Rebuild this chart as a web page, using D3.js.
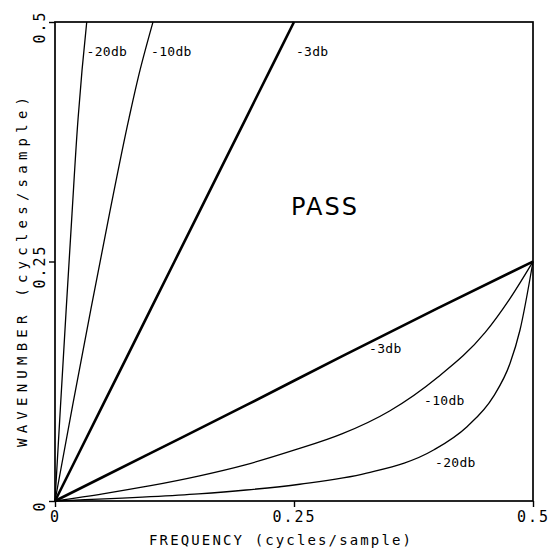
<!DOCTYPE html>
<html>
<head>
<meta charset="utf-8">
<script src="https://cdn.jsdelivr.net/npm/d3@7"></script>
<style>
  body { margin: 0; background: #fff; }
  text { font-family: "DejaVu Sans Mono", monospace; fill: #000; }
</style>
</head>
<body>
<div id="chart"></div>
<script>
// lower family: wavenumber as a function of frequency
const lowFreq3 = [0, 0.1, 0.2, 0.3, 0.4, 0.5];
const lowK3 = [0, 0.05, 0.1, 0.151, 0.201, 0.25];
const lowFreq10 = [0, 0.05, 0.1, 0.15, 0.2, 0.25, 0.3, 0.35, 0.4, 0.45, 0.475, 0.5];
const lowK10 = [0, 0.0075, 0.016, 0.026, 0.038, 0.053, 0.07, 0.094, 0.129, 0.176, 0.21, 0.25];
const lowFreq20 = [0, 0.1, 0.15, 0.2, 0.256, 0.326, 0.396, 0.431, 0.4585, 0.476, 0.4864, 0.5];
const lowK20 = [0, 0.0045, 0.0075, 0.0115, 0.0175, 0.029, 0.0532, 0.0776, 0.1089, 0.1437, 0.1785, 0.25];

// upper family: frequency as a function of wavenumber
const upK = [0, 0.1, 0.2, 0.3, 0.4, 0.45, 0.5];
const upFreq3 = [0, 0.05, 0.1, 0.15, 0.2, 0.225, 0.25];
const upFreq10 = [0, 0.0185, 0.0375, 0.057, 0.0775, 0.089, 0.1025];
const upFreq20 = [0, 0.0058, 0.0117, 0.0178, 0.0242, 0.0283, 0.0332];

const curveLabels = ["-20db", "-10db", "-3db", "-3db", "-10db", "-20db"];
// label anchor points in data units (frequency, wavenumber)
const labelFreq = [0.033, 0.1005, 0.252, 0.3285, 0.386, 0.3975];
const labelK = [0.465, 0.465, 0.465, 0.154, 0.1, 0.036];

const tickValues = [0, 0.25, 0.5];
const tickLabels = ["0", "0.25", "0.5"];

const svgWidth = 549;
const svgHeight = 554;
const plotLeft = 55, plotRight = 533, plotTop = 22, plotBottom = 501;

const svg = d3.select("#chart")
    .append("svg")
    .attr("width", svgWidth)
    .attr("height", svgHeight);

const x = d3.scaleLinear().domain([0, 0.5]).range([plotLeft, plotRight]);
const y = d3.scaleLinear().domain([0, 0.5]).range([plotBottom, plotTop]);

// frame
svg.append("rect")
    .attr("x", x(0))
    .attr("y", y(0.5))
    .attr("width", x(0.5) - x(0))
    .attr("height", y(0) - y(0.5))
    .attr("fill", "none")
    .attr("stroke", "#000")
    .attr("stroke-width", 1.7);

// x axis ticks
const xAxis = svg.append("g")
    .attr("transform", `translate(0,${y(0)})`)
    .call(d3.axisBottom(x).tickValues(tickValues).tickSize(6).tickFormat((d, i) => tickLabels[i]));
xAxis.select(".domain").remove();
xAxis.selectAll("line").attr("stroke-width", 1.4);
xAxis.selectAll("text")
    .attr("y", 10)
    .style("font-size", "15px")
    .style("font-family", "DejaVu Sans Mono, monospace")
    .style("letter-spacing", "2px");

// y axis ticks, labels rotated
const yAxis = svg.append("g")
    .attr("transform", `translate(${x(0)},0)`)
    .call(d3.axisLeft(y).tickValues(tickValues).tickSize(6).tickFormat(""));
yAxis.select(".domain").remove();
yAxis.selectAll("line").attr("stroke-width", 1.4);

svg.append("g")
    .selectAll("text")
    .data(tickValues)
    .enter()
    .append("text")
    .attr("transform", d => `translate(45,${y(d) + 5}) rotate(-90)`)
    .attr("text-anchor", "middle")
    .style("font-size", "15px")
    .style("letter-spacing", "2px")
    .text((d, i) => tickLabels[i]);

// axis titles
svg.append("text")
    .attr("x", 280)
    .attr("y", 545)
    .attr("text-anchor", "middle")
    .attr("textLength", 262)
    .attr("lengthAdjust", "spacing")
    .style("font-size", "14px")
    .text("FREQUENCY (cycles/sample)");

svg.append("text")
    .attr("transform", `translate(27,272) rotate(-90)`)
    .attr("text-anchor", "middle")
    .attr("textLength", 350)
    .attr("lengthAdjust", "spacing")
    .style("font-size", "14px")
    .text("WAVENUMBER (cycles/sample)");

// curves
const lowLine = d3.line()
    .x(d => x(d[0]))
    .y(d => y(d[1]))
    .curve(d3.curveMonotoneX);
const upLine = d3.line()
    .x(d => x(d[0]))
    .y(d => y(d[1]))
    .curve(d3.curveMonotoneY);

const lowSeries = [
    { f: lowFreq3, k: lowK3, w: 2.6 },
    { f: lowFreq10, k: lowK10, w: 1.3 },
    { f: lowFreq20, k: lowK20, w: 1.3 }
];
const upSeries = [
    { f: upFreq3, k: upK, w: 2.6 },
    { f: upFreq10, k: upK, w: 1.3 },
    { f: upFreq20, k: upK, w: 1.3 }
];

svg.append("g")
    .selectAll("path")
    .data(lowSeries)
    .enter()
    .append("path")
    .attr("d", s => lowLine(s.f.map((f, i) => [f, s.k[i]])))
    .attr("fill", "none")
    .attr("stroke", "#000")
    .attr("stroke-width", s => s.w);

svg.append("g")
    .selectAll("path")
    .data(upSeries)
    .enter()
    .append("path")
    .attr("d", s => upLine(s.f.map((f, i) => [f, s.k[i]])))
    .attr("fill", "none")
    .attr("stroke", "#000")
    .attr("stroke-width", s => s.w);

// curve labels
svg.append("g")
    .selectAll("text")
    .data(curveLabels)
    .enter()
    .append("text")
    .attr("x", (d, i) => x(labelFreq[i]))
    .attr("y", (d, i) => y(labelK[i]))
    .style("font-size", "13px")
    .style("letter-spacing", "0.3px")
    .text(d => d);

svg.append("text")
    .attr("x", 325)
    .attr("y", 215)
    .attr("text-anchor", "middle")
    .style("font-size", "24px")
    .style("font-family", "DejaVu Sans, sans-serif")
    .style("letter-spacing", "2px")
    .text("PASS");
</script>
</body>
</html>
